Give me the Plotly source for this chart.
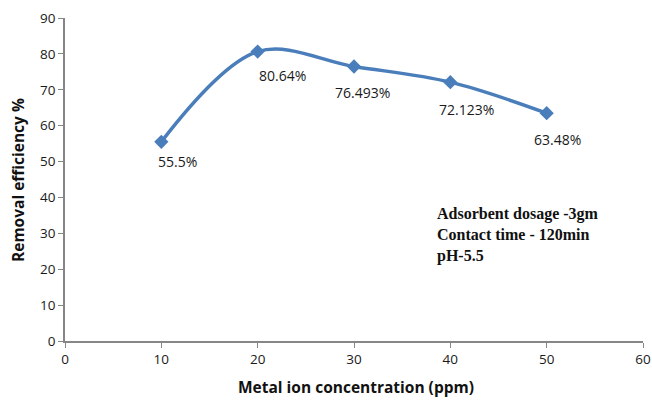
import plotly.graph_objects as go

conc = [10, 20, 30, 40, 50]
efficiency = [55.5, 80.64, 76.493, 72.123, 63.48]
labels = ["55.5%", "80.64%", "76.493%", "72.123%", "63.48%"]
label_dx = [16, 25, 8, 16, 11]
label_dy = [-20, -24, -26, -27, -26]

fig = go.Figure()
fig.add_trace(go.Scatter(
    x=conc, y=efficiency, mode="lines+markers",
    line=dict(color="#4A7EBB", width=3.5, shape="spline", smoothing=1),
    marker=dict(symbol="diamond", size=11, color="#4A7EBB"),
    showlegend=False, hoverinfo="skip",
))

for x, y, t, dx, dy in zip(conc, efficiency, labels, label_dx, label_dy):
    fig.add_annotation(x=x, y=y, text=t, showarrow=False, xshift=dx, yshift=dy,
                       font=dict(family="Open Sans", size=14, color="#1a1a1a"))

fig.add_annotation(
    xref="paper", yref="paper", x=(435 - 65) / 578, y=(341 - 203) / 323,
    xanchor="left", yanchor="top", align="left", showarrow=False,
    text="<b>Adsorbent dosage -3gm<br>Contact time - 120min<br>pH-5.5</b>",
    font=dict(family="Liberation Serif", size=16, color="#111111"),
)

fig.add_annotation(
    xref="paper", yref="paper", x=(356 - 65) / 578, y=-(387 - 341) / 323,
    xanchor="center", yanchor="middle", showarrow=False,
    text="<b>Metal ion concentration (ppm)</b>",
    font=dict(family="Open Sans", size=15.5, color="#111111"),
)
fig.add_annotation(
    xref="paper", yref="paper", x=-(65 - 18) / 578, y=(341 - 180) / 323,
    xanchor="center", yanchor="middle", showarrow=False, textangle=-90,
    text="<b>Removal efficiency %</b>",
    font=dict(family="Open Sans", size=15.5, color="#111111"),
)

axis_common = dict(showgrid=False, zeroline=False, showline=True, linecolor="#868686",
                   linewidth=1.5, ticks="outside", tickcolor="#868686", ticklen=5,
                   automargin=False,
                   tickfont=dict(family="Open Sans", size=13.5, color="#1a1a1a"))

fig.update_xaxes(range=[0, 60], dtick=10, tick0=0, **axis_common)
fig.update_yaxes(range=[0, 90], dtick=10, tick0=0, **axis_common)

fig.update_layout(width=652, height=400, margin=dict(l=65, r=9, t=18, b=59),
                  plot_bgcolor="white", paper_bgcolor="white")

fig.write_html("out.html", config={"displayModeBar": False},
               post_script="document.body.style.margin='0px';")
